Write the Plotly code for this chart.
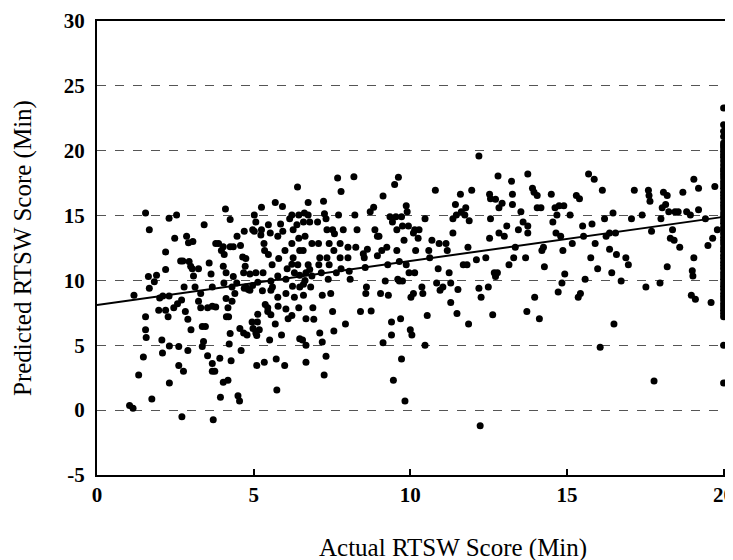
import plotly.graph_objects as go

# ---- data (Actual vs Predicted RTSW score, minutes) ----
scatter_points = [
    (1.04, 0.36), (1.15, 0.15), (1.18, 8.85), (1.33, 2.7), (1.55, 15.2), (1.55, 7.2), (1.55, 6.2),
    (1.57, 5.6), (1.48, 4.1), (1.67, 13.9), (1.64, 10.3), (1.67, 9.4), (1.75, 0.85), (1.83, 9.9),
    (1.9, 10.4), (2.0, 8.65), (1.97, 7.7), (2.07, 5.4), (2.09, 4.4), (2.19, 12.2), (2.19, 10.85),
    (2.1, 8.8), (2.19, 7.7), (2.3, 14.8), (2.3, 8.8), (2.27, 7.2), (2.31, 4.95), (2.31, 2.1),
    (2.48, 13.25), (2.54, 15.05), (2.45, 7.9), (2.57, 8.2), (2.61, 4.9), (2.61, 3.45), (2.76, 3.0),
    (2.71, -0.5), (2.67, 11.5), (2.74, 11.5), (2.78, 9.5), (2.7, 8.5), (2.82, 7.6), (2.9, 7.0),
    (3.0, 6.2), (2.86, 13.4), (2.92, 12.9), (2.94, 11.45), (2.99, 11.1), (2.9, 4.6), (3.06, 13.0),
    (3.04, 10.9), (3.08, 10.35), (3.13, 9.5), (3.24, 10.9), (3.31, 9.0), (3.24, 8.4), (3.31, 7.9),
    (3.42, 14.3), (3.4, 5.3), (3.36, 4.9), (3.36, 6.45), (3.46, 6.45), (3.53, 4.2), (3.68, 3.6),
    (3.68, 3.0), (3.76, 3.0), (3.53, 7.9), (3.68, 8.0), (3.79, 7.95), (3.58, 11.35), (3.64, 10.5),
    (3.68, 9.5), (3.71, -0.75), (3.79, 12.85), (3.88, 12.85), (3.92, 4.0), (3.94, 1.0), (3.97, 12.3),
    (4.03, 12.6), (4.1, 15.5), (4.06, 12.0), (4.03, 11.1), (4.12, 10.6), (4.05, 9.8), (4.12, 8.6),
    (4.18, 7.9), (4.13, 7.2), (4.2, 7.2), (4.03, 2.15), (4.18, 2.3), (4.22, 5.1), (4.25, 5.9),
    (4.28, 3.8), (4.25, 14.7), (4.25, 12.6), (4.35, 12.6), (4.35, 10.3), (4.31, 9.5), (4.4, 9.0),
    (4.46, 9.8), (4.31, 8.4), (4.5, 1.1), (4.55, 0.7), (4.47, 13.4), (4.58, 12.7), (4.6, 4.6),
    (4.56, 6.3), (4.65, 11.8), (4.73, 11.1), (4.68, 10.6), (4.7, 9.4), (4.75, 9.5), (4.68, 5.95),
    (4.79, 5.8), (4.7, 13.8), (4.75, 11.7), (4.83, 9.3), (4.88, 10.5), (4.88, 9.25), (4.97, 9.6),
    (4.97, 13.9), (5.02, 13.8), (5.07, 14.5), (5.02, 15.05), (5.07, 10.6), (5.13, 9.85),
    (4.95, 6.8), (4.98, 6.3), (5.07, 5.95), (5.1, 5.75), (5.12, 6.8), (5.13, 7.4), (5.18, 6.2),
    (5.1, 3.45), (5.34, 3.7), (5.25, 15.65), (5.25, 13.9), (5.23, 13.5), (5.33, 12.85), (5.35, 12.3),
    (5.3, 10.6), (5.28, 9.2), (5.37, 8.15), (5.45, 7.6), (5.45, 7.9), (5.55, 7.35), (5.47, 14.3),
    (5.53, 13.65), (5.47, 12.0), (5.59, 11.2), (5.55, 9.95), (5.55, 9.25), (5.6, 9.5), (5.51, 5.4),
    (5.69, 16.0), (5.74, 1.55), (5.72, 3.95), (5.77, 13.4), (5.8, 11.7), (5.77, 10.35), (5.77, 8.7),
    (5.78, 8.0), (5.69, 6.65), (5.92, 15.7), (5.89, 5.8), (5.99, 3.45), (5.86, 14.35), (5.93, 13.8),
    (6.0, 12.3), (6.07, 10.9), (6.03, 10.1), (6.03, 9.0), (6.03, 7.8), (6.1, 7.05), (6.15, 14.75),
    (6.22, 15.05), (6.26, 13.9), (6.22, 12.85), (6.26, 11.75), (6.22, 11.25), (6.3, 10.6),
    (6.24, 9.55), (6.3, 8.7), (6.22, 7.3), (6.4, 17.2), (6.44, 15.05), (6.38, 14.3), (6.44, 13.25),
    (6.47, 12.3), (6.41, 11.2), (6.47, 10.4), (6.47, 9.5), (6.44, 7.9), (6.47, 5.5), (6.56, 5.4),
    (6.62, 15.2), (6.59, 14.5), (6.64, 13.4), (6.58, 12.3), (6.67, 10.6), (6.64, 10.0), (6.59, 9.7),
    (6.59, 8.85), (6.67, 7.05), (6.67, 5.0), (6.67, 3.7), (6.74, 16.0), (6.74, 15.05), (6.79, 14.5),
    (6.86, 12.85), (6.74, 11.2), (6.79, 10.85), (6.86, 10.35), (6.82, 9.5), (6.89, 7.9), (6.92, 7.0),
    (7.04, 14.5), (7.07, 12.85), (7.11, 11.75), (7.08, 11.2), (7.16, 10.6), (7.19, 8.85),
    (7.11, 5.95), (7.19, 5.25), (7.23, 16.1), (7.25, 2.7), (7.26, 15.15), (7.31, 14.75),
    (7.34, 13.9), (7.41, 12.85), (7.34, 11.75), (7.41, 11.2), (7.38, 10.1), (7.46, 9.0),
    (7.31, 4.15), (7.52, 7.6), (7.56, 6.1), (7.52, 13.9), (7.56, 12.3), (7.64, 10.6), (7.58, 13.6),
    (7.68, 17.9), (7.71, 15.05), (7.76, 12.85), (7.79, 16.85), (7.76, 11.75), (7.79, 10.9),
    (7.86, 13.9), (7.93, 6.65), (8.01, 12.55), (8.01, 11.75), (8.05, 10.7), (8.08, 10.1),
    (8.2, 18.0), (8.23, 15.05), (8.26, 12.55), (8.3, 13.9), (8.41, 7.6), (8.5, 12.05),
    (8.53, 11.75), (8.56, 11.0), (8.6, 9.5), (8.58, 9.0), (8.63, 12.4), (8.72, 15.3), (8.75, 7.65),
    (8.83, 15.65), (8.87, 13.9), (8.95, 13.4), (8.95, 11.9), (9.0, 13.4), (9.09, 12.3), (9.05, 9.0),
    (9.13, 16.5), (9.13, 5.2), (9.2, 9.95), (9.28, 11.2), (9.25, 12.55), (9.3, 8.85), (9.35, 14.9),
    (9.43, 14.5), (9.4, 6.8), (9.4, 5.8), (9.46, 2.3), (9.5, 17.4), (9.54, 14.9), (9.57, 13.9),
    (9.62, 17.95), (9.57, 12.3), (9.65, 11.45), (9.6, 10.1), (9.65, 9.95), (9.75, 9.95),
    (9.69, 7.05), (9.72, 3.95), (9.72, 14.9), (9.75, 14.2), (9.8, 13.1), (9.83, 0.7), (9.87, 15.75),
    (9.9, 15.3), (9.94, 14.2), (9.87, 11.2), (9.96, 10.6), (10.02, 8.7), (10.0, 6.2), (10.05, 5.8),
    (10.1, 13.65), (10.14, 13.9), (10.17, 12.3), (10.14, 10.6), (10.1, 9.0), (10.25, 13.25),
    (10.28, 13.9), (10.37, 9.5), (10.4, 9.0), (10.47, 5.0), (10.54, 7.3), (10.47, 14.75),
    (10.59, 12.3), (10.62, 11.75), (10.69, 13.1), (10.8, 16.95), (10.84, 9.8), (10.89, 10.9),
    (10.92, 12.85), (10.95, 9.25), (11.04, 9.5), (11.14, 12.85), (11.18, 12.3), (11.24, 10.6),
    (11.29, 8.3), (11.29, 9.8), (11.36, 13.65), (11.36, 14.75), (11.44, 15.85), (11.47, 15.05),
    (11.49, 7.45), (11.52, 9.3), (11.6, 16.65), (11.63, 15.3), (11.69, 11.2), (11.74, 15.05),
    (11.77, 15.6), (11.81, 11.2), (11.84, 12.55), (11.86, 6.65), (11.88, 14.6), (11.96, 16.95),
    (12.11, 11.6), (12.19, 19.6), (12.19, 9.4), (12.26, 8.7), (12.23, -1.2), (12.41, 11.75),
    (12.49, 9.5), (12.53, 13.25), (12.53, 16.65), (12.56, 16.3), (12.56, 14.75), (12.63, 7.35),
    (12.68, 10.6), (12.72, 10.3), (12.72, 16.25), (12.8, 18.05), (12.83, 15.6), (12.83, 13.65),
    (12.78, 10.6), (12.93, 15.95), (13.0, 13.4), (13.08, 14.2), (13.15, 11.2), (13.23, 17.65),
    (13.26, 16.65), (13.26, 15.85), (13.3, 11.75), (13.35, 12.55), (13.45, 13.9), (13.53, 15.3),
    (13.6, 14.5), (13.68, 11.75), (13.72, 7.6), (13.75, 18.2), (13.75, 14.2), (13.75, 13.65),
    (13.9, 17.1), (13.95, 16.8), (13.97, 8.7), (14.05, 16.55), (14.05, 15.6), (14.12, 7.05),
    (14.17, 15.6), (14.2, 12.3), (14.25, 12.55), (14.28, 11.05), (14.5, 16.65), (14.55, 14.5),
    (14.62, 15.6), (14.65, 13.65), (14.68, 15.05), (14.72, 9.1), (14.75, 15.75), (14.8, 13.4),
    (14.84, 9.8), (14.87, 12.3), (14.9, 15.75), (14.93, 10.5), (15.1, 15.05), (15.17, 12.85),
    (15.3, 16.55), (15.36, 8.7), (15.4, 16.3), (15.43, 9.0), (15.5, 14.2), (15.53, 13.4),
    (15.58, 10.1), (15.69, 18.2), (15.76, 11.75), (15.8, 14.35), (15.87, 17.8), (15.9, 12.85),
    (15.98, 10.9), (16.06, 4.85), (16.13, 16.95), (16.2, 14.75), (16.25, 13.4), (16.36, 13.65),
    (16.36, 12.4), (16.43, 10.6), (16.47, 15.2), (16.5, 6.65), (16.55, 13.65), (16.58, 12.0),
    (16.73, 9.95), (16.88, 11.75), (16.96, 11.2), (17.06, 14.75), (17.15, 16.95), (17.4, 15.05),
    (17.52, 9.5), (17.6, 16.95), (17.62, 16.55), (17.65, 16.1), (17.7, 13.8), (17.78, 2.25),
    (17.97, 9.8), (18.0, 14.75), (18.04, 15.6), (18.08, 16.8), (18.15, 15.85), (18.2, 16.55),
    (18.2, 11.05), (18.25, 15.3), (18.3, 13.25), (18.37, 13.9), (18.42, 13.1), (18.45, 15.3),
    (18.55, 15.3), (18.6, 12.55), (18.7, 16.8), (18.82, 15.3), (18.94, 15.05), (18.97, 8.85),
    (19.0, 10.75), (19.02, 10.35), (19.05, 11.75), (19.05, 17.8), (19.1, 8.55), (19.2, 17.1),
    (19.2, 15.45), (19.42, 14.75), (19.5, 12.7), (19.6, 8.3), (19.65, 13.25), (19.72, 17.25),
    (19.8, 13.9),
]

# capped scores: a dense column of predictions at Actual = 20 min
capped_actual = 20.0
capped_predicted = [
    23.3, 22.0, 21.5, 21.1, 20.6, 20.4, 20.2, 19.95, 19.7, 19.5, 19.2, 18.9, 18.6, 18.4, 18.15,
    17.9, 17.6, 17.35, 17.1, 16.8, 16.55, 16.3, 16.0, 15.75, 15.5, 15.2, 14.95, 14.65, 14.4, 14.1,
    13.85, 13.6, 13.3, 13.05, 12.8, 12.5, 12.25, 11.95, 11.7, 11.4, 11.15, 10.9, 10.6, 10.35,
    10.1, 9.8, 9.55, 9.3, 9.0, 8.75, 8.5, 8.2, 7.95, 7.7, 7.45, 7.2, 5.0, 2.1,
]

fit_intercept = 8.1
fit_slope = 0.34
fit_x = [0, 20]

x_ticks = [0, 5, 10, 15, 20]
y_ticks = [-5, 0, 5, 10, 15, 20, 25, 30]
x_title = "Actual RTSW Score (Min)"
y_title = "Predicted RTSW Score (Min)"

# ---- build figure ----
xs = [p[0] for p in scatter_points] + [capped_actual] * len(capped_predicted)
ys = [p[1] for p in scatter_points] + capped_predicted
fit_y = [fit_intercept + fit_slope * v for v in fit_x]

FONT = "Liberation Serif, Times New Roman, serif"

fig = go.Figure()
fig.add_trace(go.Scatter(
    x=xs, y=ys, mode="markers",
    marker=dict(size=7, color="black", line=dict(width=0)),
    showlegend=False, hoverinfo="x+y", cliponaxis=False,
))
fig.add_trace(go.Scatter(
    x=fit_x, y=fit_y, mode="lines",
    line=dict(color="black", width=2),
    showlegend=False, hoverinfo="skip",
))

# the page body has an 8px default margin, so the figure is sized/offset to compensate
fig.update_layout(
    width=725, height=552,
    margin=dict(l=89, r=0, t=13, b=85),
    paper_bgcolor="white", plot_bgcolor="white",
    font=dict(family=FONT, color="black", size=20),
    xaxis=dict(
        range=[0, 20.3], tickvals=x_ticks, ticktext=[str(t) for t in x_ticks],
        showgrid=False, zeroline=False,
        showline=True, mirror=True, linecolor="black", linewidth=2,
        ticks="inside", ticklen=6, tickwidth=1.5, tickcolor="black",
        ticklabeloverflow="allow", automargin=False,
        tickfont=dict(family=FONT, size=21, color="black", weight="bold"),
    ),
    yaxis=dict(
        range=[-5, 30], tickvals=y_ticks, ticktext=[str(t) for t in y_ticks],
        showgrid=True, gridcolor="#555555", gridwidth=1, griddash="dash",
        zeroline=False, automargin=False,
        showline=True, mirror=False, linecolor="black", linewidth=2,
        ticks="", tickfont=dict(family=FONT, size=21, color="black", weight="bold"),
        ticklabelstandoff=6,
    ),
    annotations=[
        dict(text=x_title, xref="paper", yref="paper", x=0.56, y=0, yshift=-73,
             xanchor="center", yanchor="middle", showarrow=False,
             font=dict(family=FONT, size=25, color="black")),
        dict(text=y_title, xref="paper", yref="paper", x=0, y=0.5, xshift=-74,
             xanchor="center", yanchor="middle", textangle=-90, showarrow=False,
             font=dict(family=FONT, size=25, color="black")),
    ],
)

fig.write_html("out.html")
